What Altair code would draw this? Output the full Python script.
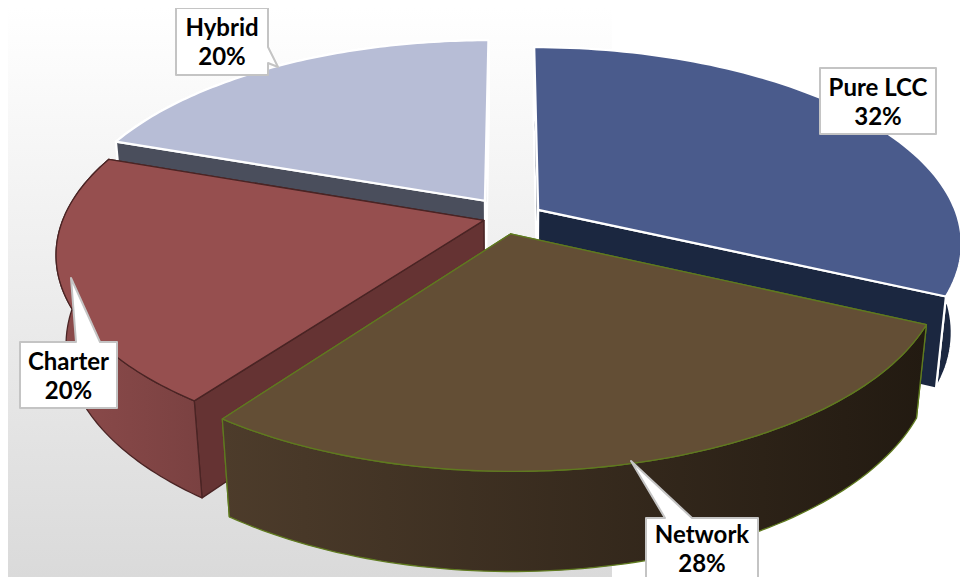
import math
import altair as alt
import pandas as pd

# ---- chart values
names = ["Pure LCC", "Network", "Charter", "Hybrid"]
shares = [32, 28, 20, 20]

# ---- styling per slice
explode = [0.08, 0.09, 0.06, 0.105]
nudge_x = [0, -9, -2, 0]
nudge_y = [1, 0, 0, 0]
start_bias_deg = [0, 0, 0, 1.5]   # perspective skew of the slice boundaries
top_fill = ["#4a5b8c", "#634e35", "#964f4f", "#b7bdd6"]
cut_fill = ["#1b2740", "#3a2d1e", "#653333", "#4a4e5c"]
side_grad = [("#1b2740", "#1b2740"), ("#4d3c2b", "#221a11"),
             ("#8c4b4b", "#7a4141"), ("#4a4e5c", "#4a4e5c")]
edge = ["#ffffff", "#5f7a1f", "#4a2424", "#ffffff"]
edge_w = [2.2, 1.3, 1.3, 2.2]
paint_order = [3, 0, 2, 1]
side_on_top = [False, True, True, False]

# ---- camera model of the tilted pie (page pixels, before the 8px margin)
OFF = 8
W, H = 952, 569
CX, CY, A, B, K, C, M = 510, 217, 420, 192, 0.165, 90, 0.022


def proj(x, y, z, i):
    w = 1 - K * y + M * z
    return [CX + A * x / w - OFF + nudge_x[i], CY + (B * y + C * z) / w - OFF + nudge_y[i]]


def poly(points):
    return {"type": "Feature", "properties": {},
            "geometry": {"type": "Polygon", "coordinates": [points + [points[0]]]}}


def shape(points, fill, stroke=None, sw=1.2):
    kw = {"fill": fill}
    if stroke:
        kw.update(stroke=stroke, strokeWidth=sw, strokeJoin="round")
    return alt.Chart(alt.InlineData(
        values={"type": "FeatureCollection", "features": [poly(points)]},
        format=alt.DataFormat(type="json", property="features"),
    )).mark_geoshape(**kw).project(type="identity", scale=1, translate=[0, 0])


def grad(c0, c1, vertical=False):
    return alt.LinearGradient(
        gradient="linear", x1=0, y1=0, x2=0 if vertical else 1, y2=1 if vertical else 0,
        stops=[alt.GradientStop(color=c0, offset=0), alt.GradientStop(color=c1, offset=1)])


total = sum(shares)
starts, a = [], 0.0
for s, b in zip(shares, start_bias_deg):
    starts.append(a + math.radians(b))
    a += s / total * 2 * math.pi
ends = starts[1:] + [2 * math.pi]

layers = [shape([[0, 0], [604, 0], [604, H], [0, H]], grad("#ffffff", "#dadada", True))]

for i in paint_order:
    t0, t1 = starts[i], ends[i]
    mid = (t0 + t1) / 2
    ox, oy = explode[i] * math.sin(mid), -explode[i] * math.cos(mid)
    ts = [t0 + (t1 - t0) * j / 80 for j in range(81)]
    rim = [(ox + math.sin(t), oy - math.cos(t)) for t in ts]
    top = [proj(x, y, 0, i) for x, y in rim]
    bot = [proj(x, y, 1, i) for x, y in rim]
    ac0, ac1 = proj(ox, oy, 0, i), proj(ox, oy, 1, i)
    side = shape(top + bot[::-1], grad(*side_grad[i]), edge[i], edge_w[i])
    if not side_on_top[i]:
        layers.append(side)
    # the cut wall that lies further back is painted first
    cuts = sorted([(rim[0], top[0], bot[0]), (rim[-1], top[-1], bot[-1])], key=lambda c: c[0][1])
    for _, tp, bt in cuts:
        layers.append(shape([ac0, tp, bt, ac1], cut_fill[i], edge[i], edge_w[i]))
    if side_on_top[i]:
        layers.append(side)
    layers.append(shape([ac0] + top, top_fill[i], edge[i], edge_w[i]))

# ---- data-label call-outs: box (x0, y0, x1, y1), pointer (base a, tip, base b), first-line offset
boxes = {
    "Pure LCC": ((820, 68, 936, 134), None, 21),
    "Network": ((646, 518, 758, 590), ((665, 518), (631, 461), (692, 518)), 18),
    "Charter": ((20, 342, 117, 408), ((76, 342), (71, 278), (100, 342)), 21),
    "Hybrid": ((176, 8, 268, 75), ((268, 47), (278, 67), (268, 63)), 21),
}

rows = []
for n, s in zip(names, shares):
    (x0, y0, x1, y1), w, dy = boxes[n]
    pts = [[x0, y0]]
    if w and w[0][1] == y0:
        pts += [list(w[0]), list(w[1]), list(w[2])]
    pts += [[x1, y0]]
    if w and w[0][0] == x1:
        pts += [list(w[0]), list(w[1]), list(w[2])]
    pts += [[x1, y1], [x0, y1]]
    pts = [[p[0] - OFF, p[1] - OFF] for p in pts]
    layers.append(shape(pts, "#ffffff", "#c4c4c4", 2))
    rows.append({"label": f"{n}\n{s}%", "px": (x0 + x1) / 2 - OFF, "py": y0 + dy - OFF})

labels = alt.Chart(pd.DataFrame(rows)).mark_text(
    font="Lato", fontWeight="bold", fontSize=24, color="#000000",
    lineBreak="\n", lineHeight=29, align="center", baseline="middle",
).encode(
    x=alt.X("px:Q", scale=None, axis=None),
    y=alt.Y("py:Q", scale=None, axis=None),
    text="label:N",
)
layers.append(labels)

chart = alt.layer(*layers).properties(
    width=W, height=H, padding=0, background="#ffffff",
    autosize=alt.AutoSizeParams(type="none"),
).configure_view(stroke=None)

chart.save("out.html", embed_options={"renderer": "svg", "actions": False})
